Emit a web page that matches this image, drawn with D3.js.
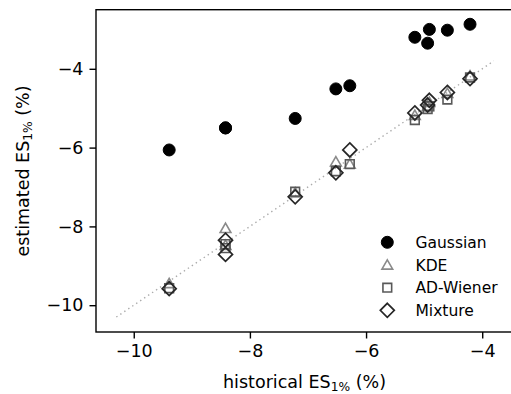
<!DOCTYPE html>
<html><head><meta charset="utf-8">
<script src="https://cdn.jsdelivr.net/npm/d3@7"></script>
<style>
html,body{margin:0;padding:0;background:#fff;overflow:hidden;}
text{font-family:"DejaVu Sans",sans-serif;fill:#000;}
</style></head>
<body><svg id="chart" width="511" height="394"></svg>
<script>
// ---- data ----
const historical = [-9.39, -8.42, -8.42, -7.22, -6.52, -6.28, -5.16, -4.94, -4.91, -4.60, -4.21];
const gaussian   = [-6.06, -5.50, -5.50, -5.26, -4.51, -4.43, -3.20, -3.35, -3.00, -3.02, -2.87];
const kde        = [-9.45, -8.05, -8.48, -7.15, -6.36, -6.42, -5.18, -4.95, -4.85, -4.62, -4.18];
const adWiener   = [-9.57, -8.45, -8.55, -7.12, -6.60, -6.42, -5.30, -5.02, -4.95, -4.78, -4.22];
const mixture    = [-9.58, -8.35, -8.71, -7.25, -6.64, -6.06, -5.12, -4.92, -4.80, -4.60, -4.25];
const xTicks = [-10, -8, -6, -4];
const yTicks = [-10, -8, -6, -4];
const diagonal = [-10.3, -3.8];
const seriesNames = ["Gaussian", "KDE", "AD-Wiener", "Mixture"];

const svg = d3.select("#chart");
const L = 96, R = 513, T = 9.7, B = 332;
const x = d3.scaleLinear().domain([-10.65, -3.47]).range([L, R]);
const y = d3.scaleLinear().domain([-10.68, -2.50]).range([B, T]);
const fmt = d => d3.format("d")(d).replace("-", "\u2212");

// diagonal
svg.append("line")
  .attr("x1", x(diagonal[0])).attr("y1", y(diagonal[0]))
  .attr("x2", x(diagonal[1])).attr("y2", y(diagonal[1]))
  .attr("stroke", "#aaaaaa").attr("stroke-width", 1.4)
  .attr("stroke-dasharray", "1.4,3.4");

const styles = {
  "Gaussian": {type: d3.symbolCircle, size: 113, fill: "#000", stroke: "#000", sw: 1},
  "KDE": {type: d3.symbolTriangle, size: 50, fill: "none", stroke: "#8a8a8a", sw: 1.6},
  "AD-Wiener": {type: d3.symbolSquare, size: 76, fill: "none", stroke: "#595959", sw: 1.6},
  "Mixture": {type: "diamond", size: 7, fill: "none", stroke: "#262626", sw: 1.7}
};
function sym(name) {
  const s = styles[name];
  if (s.type === "diamond") {
    const r = s.size;
    return `M0,${-r}L${r},0L0,${r}L${-r},0Z`;
  }
  return d3.symbol().type(s.type).size(s.size)();
}
const allSeries = {"Gaussian": gaussian, "KDE": kde, "AD-Wiener": adWiener, "Mixture": mixture};

seriesNames.forEach(name => {
  const s = styles[name];
  const vals = allSeries[name];
  svg.append("g").selectAll("path").data(historical.map((h, i) => [h, vals[i]]))
    .join("path")
    .attr("d", sym(name))
    .attr("transform", d => `translate(${x(d[0])},${y(d[1]) + (name === "KDE" ? 1 : 0)})`)
    .attr("fill", s.fill).attr("stroke", s.stroke).attr("stroke-width", s.sw);
});

// frame
svg.append("rect").attr("x", L).attr("y", T).attr("width", R - L).attr("height", B - T)
  .attr("fill", "none").attr("stroke", "#000").attr("stroke-width", 1.4);

// x axis
const xa = svg.append("g").attr("transform", `translate(0,${B})`)
  .call(d3.axisBottom(x).tickValues(xTicks).tickFormat(fmt).tickSize(6.5).tickPadding(6));
xa.select(".domain").remove();
xa.selectAll("line").attr("stroke", "#000").attr("stroke-width", 1.4);
xa.selectAll("text").attr("font-size", 17.5).attr("font-family", "DejaVu Sans").attr("fill", "#000");

const ya = svg.append("g").attr("transform", `translate(${L},0)`)
  .call(d3.axisLeft(y).tickValues(yTicks).tickFormat(fmt).tickSize(6.5).tickPadding(6));
ya.select(".domain").remove();
ya.selectAll("line").attr("stroke", "#000").attr("stroke-width", 1.4);
ya.selectAll("text").attr("font-size", 17.5).attr("font-family", "DejaVu Sans").attr("fill", "#000");

// axis labels
function label(t, prefix) {
  t.append("tspan").text(prefix + " ES");
  t.append("tspan").text("1%").attr("font-size", "70%").attr("dy", "0.22em");
  t.append("tspan").text(" (%)").attr("dy", "-0.154em");
}
const xl = svg.append("text").attr("x", 304.5).attr("y", 388).attr("text-anchor", "middle").attr("font-size", 17.5);
label(xl, "historical");
const yl = svg.append("text").attr("transform", "translate(29,171) rotate(-90)").attr("text-anchor", "middle").attr("font-size", 17.5);
label(yl, "estimated");

// legend
const lg = svg.append("g");
const rowY = [242.3, 265, 287.7, 310.3];
seriesNames.forEach((name, i) => {
  const s = styles[name];
  lg.append("path").attr("d", sym(name))
    .attr("transform", `translate(387.3,${rowY[i] + (name === "KDE" ? 1 : 0)})`)
    .attr("fill", s.fill).attr("stroke", s.stroke).attr("stroke-width", s.sw);
  lg.append("text").attr("x", 415.5).attr("y", rowY[i]).attr("dy", "0.36em")
    .attr("font-size", 15.5).text(name);
});
</script></body></html>
